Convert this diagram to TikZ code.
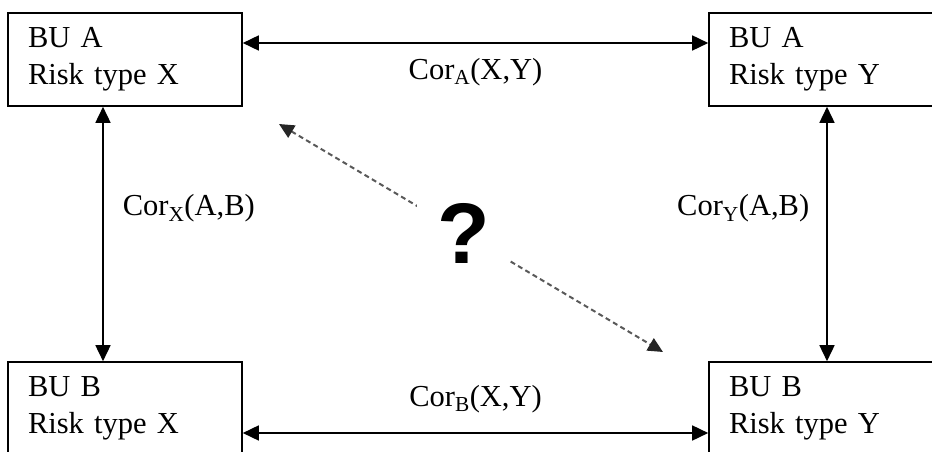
\documentclass[tikz,border=0pt]{standalone}
\usepackage{fontspec}
\setmainfont{Liberation Serif}
\newfontfamily\qfont{Liberation Sans}
\usetikzlibrary{arrows.meta}

\begin{document}
\begin{tikzpicture}[x=1pt,y=-1pt,font=\fontsize{30.5}{36.6}\selectfont,
  unit/.style={draw,line width=1.6pt,rectangle,minimum width=234pt,minimum height=93pt,
    text width=194pt,inner xsep=20pt,align=left},
  link/.style={line width=1.6pt,{Triangle[length=16pt,width=15pt]}-{Triangle[length=16pt,width=15pt]}},
  guess/.style={black!65,line width=2pt,dash pattern=on 5pt off 3.5pt,
    {Triangle[length=15pt,width=14pt,color=black!85]}-{Triangle[length=15pt,width=14pt,color=black!85]}},
  lab/.style={inner sep=0pt}]
  \useasboundingbox (0,0) rectangle (932,452);
  \clip (0,0) rectangle (932,452);
  % the four business unit / risk type cells
  \node[unit] (ax) at (125,59.5) {BU A\\Risk type X};
  \node[unit] (ay) at (826,59.5) {BU A\\Risk type Y};
  \node[unit] (bx) at (125,408.5) {BU B\\Risk type X};
  \node[unit] (by) at (826,408.5) {BU B\\Risk type Y};
  % known correlations
  \draw[link] ([yshift=16.5pt]ax.east) -- node[lab,below=14.4pt]{Cor\textsubscript{A}(X,Y)} ([yshift=16.5pt]ay.west);
  \draw[link] ([yshift=-24.5pt]bx.east) -- node[lab,above=19.6pt]{Cor\textsubscript{B}(X,Y)} ([yshift=-24.5pt]by.west);
  \draw[link] ([xshift=-22pt]ax.south) -- node[lab,pos=0.4,right=19pt]{Cor\textsubscript{X}(A,B)} ([xshift=-22pt]bx.north);
  \draw[link] ([xshift=1pt]ay.south) -- node[lab,pos=0.4,left=17pt]{Cor\textsubscript{Y}(A,B)} ([xshift=1pt]by.north);
  % unknown cross correlation
  \coordinate (q1) at (279,124);
  \coordinate (q2) at (663,352);
  \draw[guess] (q1) -- node[pos=0.48,fill=white,text=black,minimum width=92pt,minimum height=120pt,
    font=\qfont\bfseries\fontsize{86}{86}\selectfont]{?} (q2);
\end{tikzpicture}
\end{document}
